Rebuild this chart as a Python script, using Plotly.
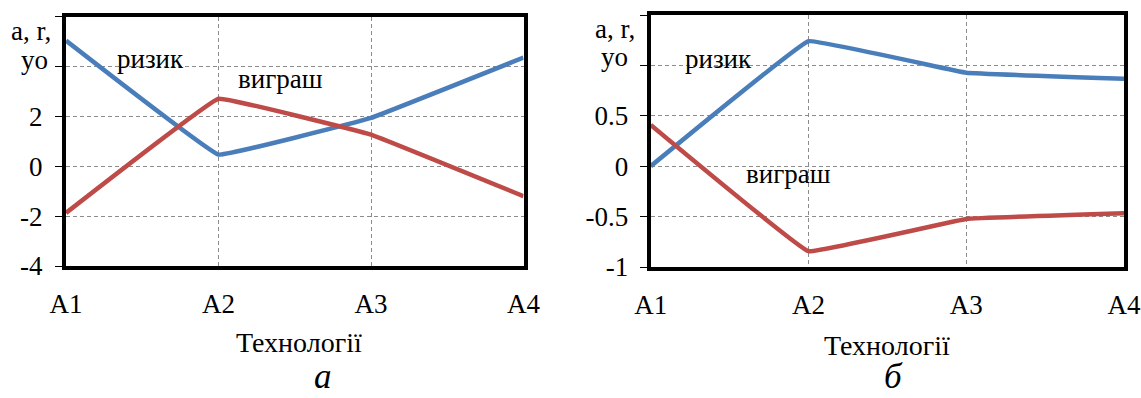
import plotly.graph_objects as go

W, H = 1141, 398

categories = ["A1", "A2", "A3", "A4"]

# Chart (a)
a_risk = [5.04, 0.47, 1.94, 4.36]
a_gain = [-1.87, 2.71, 1.27, -1.2]
a_yticks = [-4, -2, 0, 2, 4, 6]
a_yticktext = ["-4", "-2", "0", "2", "", ""]

# Chart (б)
b_risk = [0.0, 1.24, 0.927, 0.867]
b_gain = [0.41, -0.843, -0.523, -0.467]
b_yticks = [-1, -0.5, 0, 0.5, 1, 1.5]
b_yticktext = ["-1", "-0.5", "0", "0.5", "", ""]

BLUE = "#4A7EBB"
RED = "#BE4B48"
FONT = "Liberation Serif"
FS = 27


def px(x):
    return x / W


def py(y):
    return 1 - y / H


fig = go.Figure()

for xa, ya, risk, gain in [("x", "y", a_risk, a_gain), ("x2", "y2", b_risk, b_gain)]:
    fig.add_trace(go.Scatter(x=categories, y=risk, mode="lines", xaxis=xa, yaxis=ya,
                             line=dict(color=BLUE, width=4.5, shape="spline", smoothing=0.15),
                             name="ризик", showlegend=False))
    fig.add_trace(go.Scatter(x=categories, y=gain, mode="lines", xaxis=xa, yaxis=ya,
                             line=dict(color=RED, width=4.5, shape="spline", smoothing=0.15),
                             name="виграш", showlegend=False))

grid = dict(showgrid=True, gridcolor="#8C8C8C", gridwidth=1, griddash="4px,3px",
            showline=True, linecolor="black", linewidth=4, mirror=True, zeroline=False,
            automargin=False,
            tickfont=dict(family=FONT, size=FS, color="black"))

xcommon = dict(grid, type="category", range=[0, 3], ticks="", ticklabelstandoff=11)

fig.update_layout(
    width=W, height=H,
    margin=dict(l=0, r=0, t=0, b=0, autoexpand=False),
    paper_bgcolor="white", plot_bgcolor="white",
    font=dict(family=FONT, size=FS, color="black"),
    xaxis=dict(xcommon, domain=[px(66), px(523.5)], anchor="y"),
    yaxis=dict(grid, domain=[py(266), py(16.7)], range=[-4, 6], anchor="x",
               tickvals=a_yticks, ticktext=a_yticktext,
               ticks="outside", ticklen=7, tickcolor="black", tickwidth=1,
               ticklabelstandoff=7),
    xaxis2=dict(xcommon, domain=[px(650.7), px(1124)], anchor="y2"),
    yaxis2=dict(grid, domain=[py(267), py(15)], range=[-1, 1.5], anchor="x2",
                tickvals=b_yticks, ticktext=b_yticktext,
                ticks="outside", ticklen=7, tickcolor="black", tickwidth=1,
                ticklabelstandoff=6),
)

ann = []


def add(text, x, y, size=FS, italic=False, yanchor="middle"):
    t = f"<i>{text}</i>" if italic else text
    ann.append(dict(text=t, x=px(x), y=py(y), xref="paper", yref="paper",
                    xanchor="center", yanchor=yanchor, showarrow=False,
                    font=dict(family=FONT, size=size, color="black")))


# axis titles (y) placed over the top tick positions
add("a, r,", 31, 31)
add("yo", 34, 60)
add("a, r,", 615, 29)
add("yo", 614, 57)

# series labels
add("ризик", 150, 59)
add("виграш", 280, 79)
add("ризик", 718, 59)
add("виграш", 788, 174)

# x titles
add("Технології", 299, 342, size=28)
add("Технології", 887, 345, size=28)

# panel letters
add("а", 323, 398, size=35, italic=True, yanchor="bottom")
add("б", 893, 398, size=35, italic=True, yanchor="bottom")

fig.update_layout(annotations=ann)

fig.write_html("out.html",
               config={"displayModeBar": False},
               post_script="document.body.style.margin='0';document.body.style.overflow='hidden';")
